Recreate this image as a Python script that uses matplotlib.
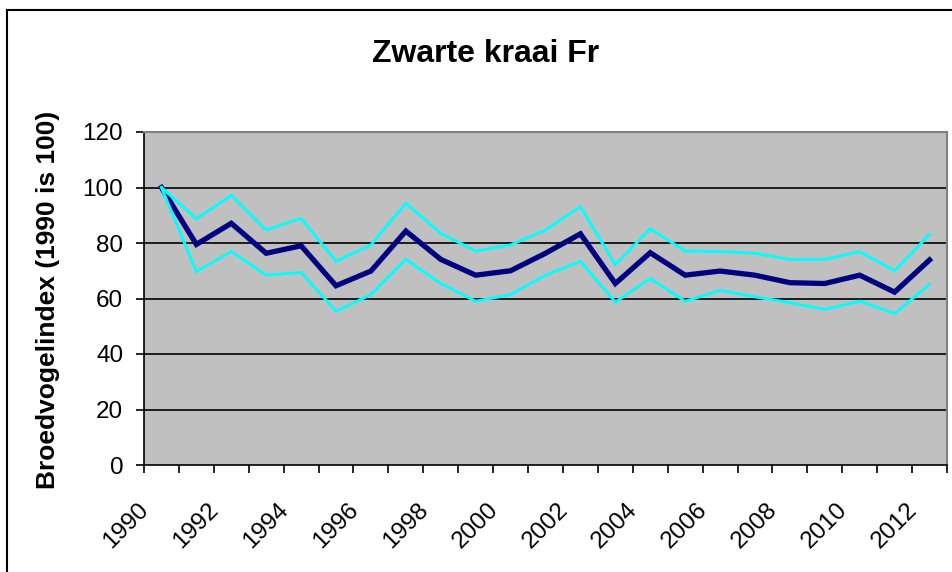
import matplotlib
matplotlib.use("Agg")
import matplotlib.pyplot as plt
from matplotlib.lines import Line2D
from matplotlib.transforms import ScaledTranslation
import numpy as np

plt.rcParams['font.family'] = ['Liberation Sans', 'DejaVu Sans']

# Broedvogelindex zwarte kraai, Friesland (1990 = 100)
jaren = list(range(1990, 2013))
index = [100, 79.5, 87.1, 76.3, 79.0, 64.6, 69.9, 84.3, 74.1, 68.4, 70.0, 76.3,
         83.3, 65.4, 76.5, 68.4, 69.9, 68.4, 65.7, 65.4, 68.4, 62.3, 73.9]
boven = [100, 88.7, 97.2, 84.7, 88.9, 73.4, 79.3, 94.3, 83.5, 77.1, 79.3, 84.7,
         93.1, 72.2, 85.1, 77.1, 76.9, 76.3, 74.1, 74.1, 76.9, 70.0, 83.1]
onder = [100, 69.7, 76.9, 68.4, 69.4, 55.4, 61.4, 74.1, 65.4, 59.0, 61.4, 68.4,
         73.4, 58.7, 67.2, 59.0, 62.9, 60.6, 58.5, 56.1, 59.0, 54.6, 65.1]
y_ticks = [0, 20, 40, 60, 80, 100, 120]

W, H = 952, 572
fig = plt.figure(figsize=(W / 100, H / 100), dpi=100)
fig.patch.set_facecolor('white')

# plotgebied in pixels: x 144-947, y 132-465
ax = fig.add_axes([144 / W, 1 - 465 / H, (947 - 144) / W, (465 - 132) / H])
ax.set_facecolor('#C0C0C0')

x = np.arange(len(jaren))
ax.plot(x, index, color='#000080', lw=3.8, solid_joinstyle='miter', zorder=3)
ax.plot(x, boven, color='#00FFFF', lw=2.1, solid_joinstyle='miter', zorder=4)
ax.plot(x, onder, color='#00FFFF', lw=2.1, solid_joinstyle='miter', zorder=4)

ax.set_xlim(-0.5, len(jaren) - 0.5)
ax.set_ylim(0, 120)

# horizontale rasterlijnen
for v in y_ticks[1:-1]:
    ax.axhline(v, color='black', lw=1.2, zorder=1)

ax.set_yticks(y_ticks)
ax.set_yticklabels([str(v) for v in y_ticks], fontsize=17.5)
ax.tick_params(axis='y', direction='out', length=6, width=1.2, pad=9, color='black')

# categorie-as: streepjes tussen de jaren, labels onder elk tweede jaar
ax.set_xticks(np.arange(-0.5, len(jaren), 1.0))
ax.set_xticklabels([])
ax.tick_params(axis='x', which='major', direction='out', length=6, width=1.2, color='black')
label_pos = [i for i, j in enumerate(jaren) if j % 2 == 0]
ax.set_xticks(label_pos, minor=True)
ax.set_xticklabels([str(jaren[i]) for i in label_pos], minor=True,
                   fontsize=17.5, rotation=45, ha='right', va='center',
                   rotation_mode='anchor')
ax.tick_params(axis='x', which='minor', length=0, pad=30)
offset = ScaledTranslation(-16 / 100, 0, fig.dpi_scale_trans)
for lab in ax.xaxis.get_minorticklabels():
    lab.set_transform(lab.get_transform() + offset)

for side in ('left', 'bottom'):
    ax.spines[side].set_color('black')
    ax.spines[side].set_linewidth(1.2)
for side in ('top', 'right'):
    ax.spines[side].set_color('#808080')
    ax.spines[side].set_linewidth(1.5)

fig.text(486 / W, 1 - 62 / H, 'Zwarte kraai Fr', fontsize=23,
         fontweight='bold', ha='center', va='baseline')
fig.text(48 / W, 1 - 300 / H, 'Broedvogelindex (1990 is 100)', fontsize=19,
         fontweight='bold', rotation=90, ha='center', va='center')

# kader om de grafiek
fig.add_artist(Line2D([7 / W, 7 / W], [0, 1 - 10 / H], color='black', lw=1.5,
                      transform=fig.transFigure))
fig.add_artist(Line2D([7 / W, 1], [1 - 10 / H, 1 - 10 / H], color='black', lw=1.5,
                      transform=fig.transFigure))

fig.savefig('out.png', dpi=100)
